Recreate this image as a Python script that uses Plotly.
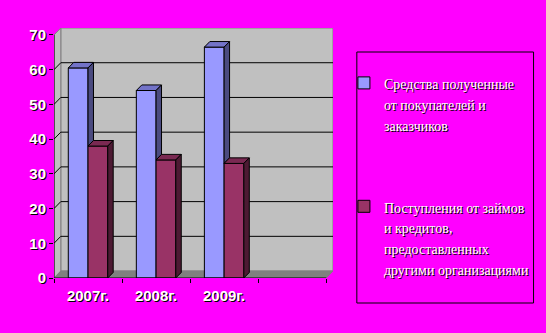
import plotly.graph_objects as go

# ---- data ----
categories = ["2007г.", "2008г.", "2009г.", ""]
series_names = [
    "Средства полученные<br>от покупателей и<br>заказчиков",
    "Поступления от займов<br>и кредитов,<br>предоставленных<br>другими организациями",
]
customers = [60.5, 54, 66.5]
loans = [38, 34, 33]
y_ticks = [0, 10, 20, 30, 40, 50, 60, 70]

# ---- style / geometry ----
W = 0.29          # bar width (category units)
DX, DY = 0.08, 1.6   # bar depth offsets
WDX, WDY = 0.1, 2.0  # wall depth offsets
YMAX = 72
XMIN, XMAX = -0.5, 3.5
BLUE, BLUE_TOP, BLUE_SIDE = "#9999FF", "#7373C8", "#4B4B80"
RED, RED_TOP, RED_SIDE = "#993366", "#7A2952", "#4D1A33"
MAG = "#FF00FF"

L, R, T, B = 54, 211, 28, 55
FW, FH = 546, 333
PW, PH = FW - L - R, FH - T - B


def px_x(p):
    return (p - L) / PW


def px_y(p):
    return (FH - B - p) / PH


def small(s):
    return "<br>".join(f'<span style="font-size:14px">{part}</span>' for part in s.split("<br>"))


xs = list(range(len(customers)))
fig = go.Figure()
fig.add_trace(go.Bar(x=xs, y=customers, name=small(series_names[0]), width=W, offset=-W,
                     marker=dict(color=BLUE, line=dict(color="black", width=1)),
                     legendgroup="a"))
fig.add_trace(go.Bar(x=xs, y=loans, name=small(series_names[1]), width=W, offset=0,
                     marker=dict(color=RED, line=dict(color="black", width=1)),
                     legendgroup="b"))


def face(xp, yp, color):
    fig.add_trace(go.Scatter(x=xp, y=yp, mode="lines", fill="toself", fillcolor=color,
                             line=dict(color="black", width=1), showlegend=False,
                             hoverinfo="skip"))


# blue top + visible side
tx, ty, sx, sy = [], [], [], []
for i, vb, vr in zip(xs, customers, loans):
    xl, xr = i - W, i
    tx += [xl, xr, xr + DX, xl + DX, xl, None]
    ty += [vb, vb, vb + DY, vb + DY, vb, None]
    sx += [xr, xr, xr + DX, xr + DX, xr, None]
    sy += [vr, vb, vb + DY, vr + DY, vr, None]
face(tx, ty, BLUE_TOP)
face(sx, sy, BLUE_SIDE)

# red top + side
tx, ty, sx, sy = [], [], [], []
for i, vr in zip(xs, loans):
    xl, xr = i, i + W
    tx += [xl, xr, xr + DX, xl + DX, xl, None]
    ty += [vr, vr, vr + DY, vr + DY, vr, None]
    sx += [xr, xr, xr + DX, xr + DX, xr, None]
    sy += [0, vr, vr + DY, DY, 0, None]
face(tx, ty, RED_TOP)
face(sx, sy, RED_SIDE)

shapes = []
# back wall
shapes.append(dict(type="rect", xref="x", yref="y", x0=XMIN + WDX, x1=XMAX + WDX, y0=WDY, y1=YMAX,
                   fillcolor="#C0C0C0", line=dict(color="#808080", width=1), layer="below"))
# left side wall
shapes.append(dict(type="path", xref="x", yref="y",
                   path=f"M {XMIN},0 L {XMIN+WDX},{WDY} L {XMIN+WDX},{YMAX} L {XMIN},{YMAX-WDY} Z",
                   fillcolor="#C0C0C0", line=dict(color="#808080", width=1), layer="below"))
# floor
shapes.append(dict(type="path", xref="x", yref="y",
                   path=f"M {XMIN},0 L {XMAX},0 L {XMAX+WDX},{WDY} L {XMIN+WDX},{WDY} Z",
                   fillcolor="#808080", line=dict(color="#808080", width=1), layer="below"))
# gridlines on wall
for v in y_ticks[1:-1]:
    shapes.append(dict(type="line", xref="x", yref="y", x0=XMIN + WDX, x1=XMAX + WDX,
                       y0=v + WDY, y1=v + WDY, line=dict(color="black", width=1), layer="below"))
    shapes.append(dict(type="line", xref="x", yref="y", x0=XMIN, x1=XMIN + WDX,
                       y0=v, y1=v + WDY, line=dict(color="black", width=1), layer="below"))
# axis lines
shapes.append(dict(type="line", xref="x", yref="y", x0=XMIN, x1=XMIN, y0=0, y1=y_ticks[-1],
                   line=dict(color="black", width=1)))
shapes.append(dict(type="line", xref="x", yref="y", x0=XMIN, x1=XMAX, y0=0, y1=0,
                   line=dict(color="black", width=1)))
# legend box
shapes.append(dict(type="rect", xref="paper", yref="paper", x0=px_x(359), x1=px_x(537),
                   y0=px_y(303), y1=px_y(52), line=dict(color="black", width=1),
                   fillcolor="rgba(0,0,0,0)"))

tickfont = dict(family="Liberation Sans, Arial", size=15, color="white", weight="bold",
                shadow="1px 1px 0px black")

fig.update_layout(
    width=FW, height=FH,
    margin=dict(l=L, r=R, t=T, b=B, pad=0),
    paper_bgcolor=MAG, plot_bgcolor=MAG,
    barmode="overlay",
    showlegend=True,
    shapes=shapes,
    xaxis=dict(range=[XMIN, XMAX + WDX], tickvals=list(range(len(categories))), ticktext=categories,
               ticks="", showgrid=False, zeroline=False, showline=False, tickfont=tickfont,
               ticklabelstandoff=7,
               minor=dict(tickvals=[i - 0.5 for i in range(len(categories) + 1)], ticks="outside",
                          ticklen=4, tickcolor="black", showgrid=False),
               fixedrange=True),
    yaxis=dict(range=[0, YMAX], tickvals=y_ticks, ticks="outside", ticklen=4, tickcolor="black",
               showgrid=False, zeroline=False, showline=False, tickfont=tickfont, fixedrange=True),
    legend=dict(x=px_x(346), y=px_y(66), xanchor="left", yanchor="top",
                bgcolor="rgba(0,0,0,0)", borderwidth=0, valign="top",
                traceorder="grouped", tracegroupgap=58,
                font=dict(family="Liberation Serif, Times New Roman", size=16, color="white",
                          shadow="1px 1px 0px black")),
)

fig.write_html("out.html")
